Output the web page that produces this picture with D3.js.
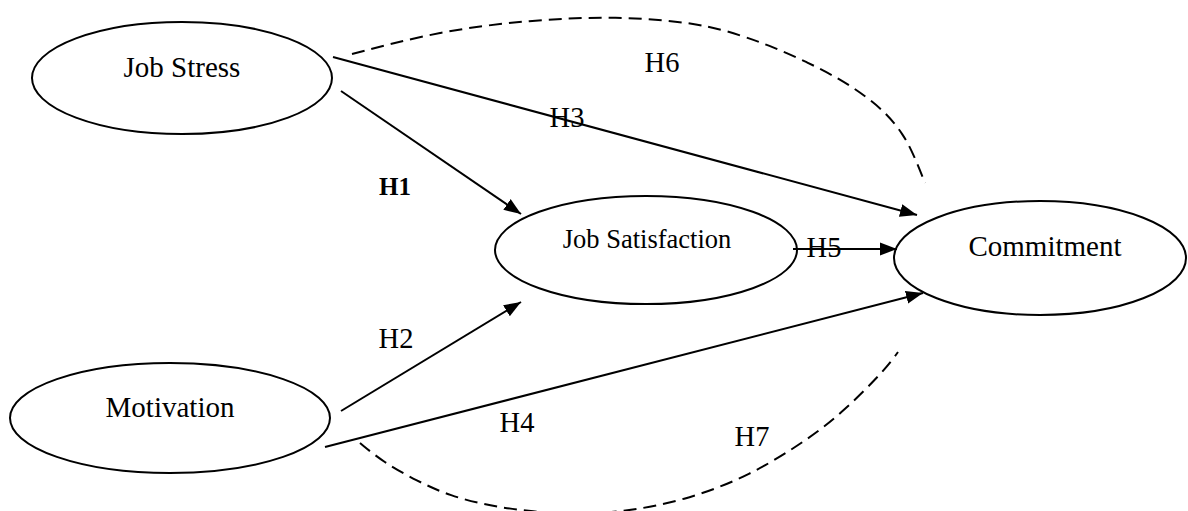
<!DOCTYPE html>
<html>
<head>
<meta charset="utf-8">
<script src="https://cdnjs.cloudflare.com/ajax/libs/d3/7.8.5/d3.min.js"></script>
<style>
    html, body { margin: 0; padding: 0; background: #fff; }
    svg { display: block; }
</style>
</head>
<body>
<svg></svg>
<script>
// constructs (ellipses)
const nodeNames = ["Job Stress", "Job Satisfaction", "Commitment", "Motivation"];
const nodeCx = [182, 646, 1040, 170];
const nodeCy = [78, 250, 258, 418];
const nodeRx = [150, 151, 146, 160];
const nodeRy = [56, 54, 57, 55];
// text centre and baseline inside each ellipse
const nodeTextX = [182, 647, 1045, 170];
const nodeTextY = [77, 248, 256, 417];

// direct paths (solid arrows): start point -> arrow tip
const arrowNames = ["H1", "H3", "H5", "H2", "H4"];
const arrowFrom = [[341, 91], [333, 57], [793, 249], [341, 411], [325, 447]];
const arrowTo = [[521, 214], [917, 215], [897, 249], [521, 302], [923, 293]];

// mediated paths (dashed curves), points traced on the picture
const curveNames = ["H6", "H7"];
const curvePoints = [
    [[352, 54], [440, 31], [530, 20], [615, 16], [700, 23], [743, 36], [773, 47], [807, 62], [840, 79], [867, 97], [887, 114], [903, 134], [913, 153], [925, 183]],
    [[360, 443], [383, 462], [417, 481], [450, 496], [490, 506], [533, 512], [578, 514], [623, 512], [683, 501], [750, 476], [810, 438], [843, 412], [885, 370], [898, 352]]
];

// hypothesis labels
const hypLabels = ["H6", "H3", "H1", "H5", "H2", "H4", "H7"];
const hypX = [662, 567, 395, 824, 396, 517, 752];
const hypY = [72, 127, 195, 257, 348, 432, 446];

const SVGsize = {w: 1188, h: 511};

var svg = d3.select('svg')
    .attr('width', SVGsize.w)
    .attr('height', SVGsize.h);

// diagram units are picture pixels
var scaleX = d3.scaleLinear().domain([0, SVGsize.w]).range([0, SVGsize.w]);
var scaleY = d3.scaleLinear().domain([0, SVGsize.h]).range([0, SVGsize.h]);

svg.append('defs').append('marker')
    .attr('id', 'head')
    .attr('markerUnits', 'userSpaceOnUse')
    .attr('viewBox', '0 -7 17 14')
    .attr('refX', 17)
    .attr('refY', 0)
    .attr('markerWidth', 17)
    .attr('markerHeight', 14)
    .attr('orient', 'auto')
    .append('path')
        .attr('d', 'M0,-6.5L17,0L0,6.5Z')
        .attr('fill', '#000');

var fontFam = "'Liberation Serif', 'Times New Roman', Times, serif";

// dashed curves (b-spline smooths out tracing jitter)
var line = d3.line()
    .x(function(d) { return scaleX(d[0]); })
    .y(function(d) { return scaleY(d[1]); })
    .curve(d3.curveBasis);

svg.selectAll('path.curve')
    .data(curvePoints)
    .enter().append('path')
        .attr('class', 'curve')
        .attr('d', function(d) { return line(d); })
        .attr('fill', 'none')
        .attr('stroke', '#000')
        .attr('stroke-width', 2)
        .attr('stroke-dasharray', '13,7');

// solid arrows
svg.selectAll('line.arrow')
    .data(arrowNames)
    .enter().append('line')
        .attr('class', 'arrow')
        .attr('x1', function(d, i) { return scaleX(arrowFrom[i][0]); })
        .attr('y1', function(d, i) { return scaleY(arrowFrom[i][1]); })
        .attr('x2', function(d, i) { return scaleX(arrowTo[i][0]); })
        .attr('y2', function(d, i) { return scaleY(arrowTo[i][1]); })
        .attr('stroke', '#000')
        .attr('stroke-width', 2)
        .attr('marker-end', 'url(#head)');

// ellipses
svg.selectAll('ellipse')
    .data(nodeNames)
    .enter().append('ellipse')
        .attr('cx', function(d, i) { return scaleX(nodeCx[i]); })
        .attr('cy', function(d, i) { return scaleY(nodeCy[i]); })
        .attr('rx', function(d, i) { return scaleX(nodeRx[i]) - scaleX(0); })
        .attr('ry', function(d, i) { return scaleY(nodeRy[i]) - scaleY(0); })
        .attr('fill', 'none')
        .attr('stroke', '#000')
        .attr('stroke-width', 2);

svg.selectAll('text.node')
    .data(nodeNames)
    .enter().append('text')
        .attr('class', 'node')
        .attr('x', function(d, i) { return scaleX(nodeTextX[i]); })
        .attr('y', function(d, i) { return scaleY(nodeTextY[i]); })
        .attr('text-anchor', 'middle')
        .attr('font-family', fontFam)
        .attr('font-size', function(d) { return d === "Job Satisfaction" ? 26.5 : 29; })
        .attr('fill', '#000')
        .text(function(d) { return d; });

svg.selectAll('text.hyp')
    .data(hypLabels)
    .enter().append('text')
        .attr('class', 'hyp')
        .attr('x', function(d, i) { return scaleX(hypX[i]); })
        .attr('y', function(d, i) { return scaleY(hypY[i]); })
        .attr('text-anchor', 'middle')
        .attr('font-family', fontFam)
        .attr('font-size', function(d) { return d === "H1" ? 25 : 28.5; })
        .attr('font-weight', function(d) { return d === "H1" ? 'bold' : 'normal'; })
        .attr('fill', '#000')
        .text(function(d) { return d; });
</script>
</body>
</html>
